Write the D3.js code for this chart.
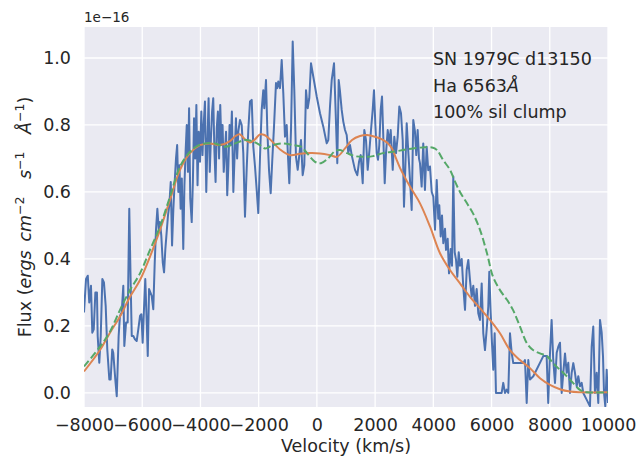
<!DOCTYPE html>
<html>
<head>
<meta charset="utf-8">
<script src="https://cdn.jsdelivr.net/npm/d3@7"></script>
<style>
  html, body { margin: 0; padding: 0; background: #ffffff; }
  svg { display: block; }
  text { font-family: "DejaVu Sans", sans-serif; fill: #262626; }
</style>
</head>
<body>
<svg id="chart" width="641" height="456"></svg>
<script>
// Observed H-alpha profile (flux in units of 1e-16)
const obsVelocity = [
  -8000,-7930,-7870,-7820,-7760,-7715,-7665,-7610,-7555,-7530,-7475,-7425,-7370,-7315,-7255,-7200,
  -7130,-7085,-7030,-6995,-6925,-6875,-6810,-6765,-6705,-6650,-6615,-6555,-6500,-6445,-6395,-6360,
  -6305,-6250,-6190,-6135,-6075,-6030,-5985,-5940,-5895,-5845,-5810,-5765,-5720,-5675,-5620,-5570,
  -5525,-5480,-5435,-5390,-5345,-5295,-5250,-5205,-5160,-5115,-5070,-5020,-4975,-4930,-4885,-4840,
  -4800,-4760,-4720,-4680,-4640,-4590,-4550,-4510,-4470,-4430,-4390,-4350,-4300,-4260,-4220,-4180,
  -4140,-4100,-4060,-4015,-3970,-3930,-3890,-3845,-3800,-3760,-3720,-3680,-3640,-3600,-3560,-3520,
  -3480,-3440,-3400,-3360,-3320,-3280,-3240,-3200,-3160,-3120,-3080,-3040,-3000,-2960,-2920,-2870,
  -2830,-2780,-2740,-2700,-2641,-2583,-2528,-2470,-2411,-2356,-2298,-2239,-2184,-2126,-2068,-2013,
  -1954,-1896,-1841,-1807,-1748,-1703,-1645,-1587,-1532,-1473,-1405,-1360,-1326,-1267,-1209,-1154,
  -1096,-1037,-1003,-948,-889,-831,-776,-718,-659,-604,-546,-488,-433,-374,-316,-261,
  -202,-123,-6,107,220,337,392,450,509,588,646,701,749,794,852,907,
  966,1024,1079,1138,1196,1309,1388,1447,1505,1574,1629,1687,1745,1800,1859,1917,
  1962,2006,2055,2099,2144,2192,2237,2281,2330,2374,2433,2488,2536,2605,2659,2718,
  2776,2831,2889,2948,2992,3037,3085,3140,3198,3256,3311,3369,3414,3462,3507,3541,
  3599,3654,3712,3771,3825,3885,3944,3999,4057,4116,4170,4205,4253,4298,4342,4401,
  4435,4493,4538,4596,4641,4686,4734,4779,4824,4872,4916,4975,5029,5088,5145,5201,
  5259,5318,5373,5431,5489,5544,5603,5661,5716,5774,5833,5888,5922,5970,6015,6059,
  6107,6152,6231,6347,6402,6461,6519,6574,6633,6691,6746,6805,6977,7090,7148,7207,
  7262,7320,7434,7777,7892,7947,8008,8063,8118,8179,8238,8293,8351,8409,8464,8523,
  8581,8636,8694,8752,8808,8866,8924,8979,9038,9096,9151,9266,9381,9439,9494,9553,
  9611,9666,9725,9783,9828,9863,9907,9955,10000
];
const obsFlux = [
  0.24,0.34,0.35,0.27,0.32,0.18,0.19,0.30,0.30,0.17,0.09,0.17,0.34,0.33,0.26,0.13,
  0.04,0.04,0.13,0.12,0.04,-0.01,0.17,0.23,0.24,0.32,0.14,0.21,0.21,0.55,0.32,0.17,
  0.17,0.16,0.155,0.19,0.23,0.235,0.15,0.25,0.34,0.21,0.11,0.31,0.30,0.29,0.25,0.39,
  0.49,0.55,0.49,0.51,0.47,0.39,0.36,0.43,0.48,0.53,0.56,0.63,0.44,0.55,0.63,0.70,
  0.74,0.60,0.68,0.55,0.64,0.43,0.62,0.72,0.80,0.66,0.85,0.58,0.51,0.63,0.82,0.70,
  0.86,0.62,0.78,0.69,0.84,0.71,0.80,0.87,0.60,0.75,0.88,0.66,0.76,0.84,0.88,0.72,
  0.63,0.79,0.84,0.70,0.86,0.74,0.80,0.66,0.72,0.78,0.59,0.68,0.80,0.74,0.84,0.60,
  0.70,0.82,0.70,0.78,0.815,0.80,0.716,0.526,0.67,0.785,0.87,0.875,0.735,0.676,0.606,0.537,
  0.705,0.845,0.904,0.85,0.934,0.785,0.666,0.596,0.696,0.795,0.925,0.91,0.93,0.91,0.994,0.895,
  0.765,0.80,0.725,0.626,0.785,1.049,0.904,0.705,0.666,0.71,0.755,0.65,0.68,0.904,0.85,0.88,
  0.984,0.944,0.885,0.835,0.795,0.745,0.755,0.855,0.934,0.984,0.835,0.686,0.934,0.90,0.845,0.81,
  0.785,0.77,0.716,0.74,0.71,0.666,0.65,0.69,0.71,0.626,0.785,0.755,0.666,0.72,0.785,0.845,
  0.904,0.805,0.716,0.696,0.74,0.845,0.885,0.765,0.626,0.716,0.785,0.745,0.785,0.666,0.765,0.716,
  0.765,0.855,0.835,0.755,0.556,0.67,0.805,0.72,0.636,0.546,0.815,0.78,0.71,0.785,0.70,0.686,
  0.616,0.745,0.606,0.735,0.665,0.676,0.60,0.586,0.487,0.636,0.52,0.56,0.467,0.53,0.447,0.49,
  0.427,0.46,0.357,0.43,0.38,0.646,0.42,0.397,0.347,0.42,0.38,0.40,0.317,0.248,0.367,0.397,
  0.337,0.287,0.32,0.26,0.31,0.238,0.218,0.327,0.178,0.128,0.19,0.258,0.362,0.24,0.148,0.069,
  0.178,0.0,0.0,0.0,0.03,0.0,0.01,0.0,0.178,0.12,0.089,0.089,0.089,0.089,0.098,-0.03,
  0.098,0.04,0.05,0.11,0.11,-0.03,0.12,0.218,0.10,0.03,0.12,0.138,0.15,0.0,0.06,0.118,
  0.06,0.09,0.0,0.06,0.089,0.06,0.02,0.05,0.02,0.03,0.0,-0.02,-0.04,0.138,0.198,0.0,
  0.06,-0.03,0.218,0.18,0.11,0.0,-0.04,0.069,-0.03
];

// Model profile (solid)
const modelVelocity = [
  -8000,-7450,-7107,-6763,-6420,-6076,-5733,-5389,-5046,-4702,-4359,-4015,-3672,-3328,-2985,-2800,
  -2650,-2470,-2298,-2150,-1950,-1800,-1611,-1267,-924,-580,-237,107,450,691,966,1206,
  1481,1721,1996,2237,2443,2580,2720,2855,3198,3542,3885,4229,4572,4916,5259,5603,
  5946,6290,6633,6977,7320,7664,8008,8351,8694,9038,10000
];
const modelFlux = [
  0.064,0.128,0.18,0.228,0.287,0.337,0.407,0.487,0.576,0.666,0.716,0.74,0.745,0.74,0.752,0.767,
  0.772,0.757,0.748,0.755,0.772,0.77,0.757,0.727,0.71,0.714,0.716,0.715,0.71,0.705,0.73,0.755,
  0.767,0.77,0.765,0.757,0.745,0.73,0.70,0.672,0.616,0.566,0.497,0.417,0.367,0.327,0.287,0.253,
  0.218,0.178,0.128,0.098,0.074,0.044,0.024,0.011,0.004,0.002,0.002
];

// Clump model profile (dashed)
const clumpVelocity = [
  -8000,-7450,-7107,-6763,-6420,-6076,-5733,-5389,-5046,-4702,-4359,-4118,-3844,-3500,-3157,-2813,
  -2470,-2229,-1954,-1783,-1508,-1164,-821,-546,-340,-65,141,381,622,794,1034,1309,
  1584,1928,2271,2615,2958,3301,3645,3988,4126,4332,4572,4744,4916,5156,5362,5603,
  5843,6049,6290,6530,6736,6977,7217,7423,7664,7904,8110,8351,8592,8798,9038,9279,10000
];
const clumpFlux = [
  0.079,0.138,0.183,0.248,0.307,0.357,0.427,0.497,0.586,0.676,0.72,0.737,0.745,0.745,0.735,0.745,
  0.755,0.752,0.74,0.73,0.74,0.745,0.74,0.735,0.716,0.69,0.686,0.70,0.722,0.725,0.716,0.707,
  0.705,0.707,0.716,0.72,0.725,0.73,0.733,0.732,0.725,0.696,0.666,0.631,0.60,0.566,0.536,0.487,
  0.417,0.347,0.307,0.278,0.248,0.198,0.148,0.128,0.118,0.11,0.089,0.069,0.049,0.03,0.009,0.002,0.002
];

const xTicks = [-8000,-6000,-4000,-2000,0,2000,4000,6000,8000,10000];
const yTicks = [0.0,0.2,0.4,0.6,0.8,1.0];
const noteLines = ["SN 1979C d13150", "Ha 6563", "100% sil clump"];

const svg = d3.select("#chart");
const plot = { left: 84, right: 608, top: 27, bottom: 407 };

const x = d3.scaleLinear().domain([-8000, 10000]).range([plot.left, plot.right]);
const y = d3.scaleLinear().domain([-0.042, 1.0925]).range([plot.bottom, plot.top]);

// Axes background
svg.append("rect")
  .attr("x", plot.left).attr("y", plot.top)
  .attr("width", plot.right - plot.left).attr("height", plot.bottom - plot.top)
  .attr("fill", "#EAEAF2");

// Grid lines
const grid = svg.append("g").attr("stroke", "#ffffff").attr("stroke-width", 1.3);
grid.selectAll("line.vx").data(xTicks).join("line")
  .attr("x1", d => x(d)).attr("x2", d => x(d))
  .attr("y1", plot.top).attr("y2", plot.bottom);
grid.selectAll("line.hy").data(yTicks).join("line")
  .attr("x1", plot.left).attr("x2", plot.right)
  .attr("y1", d => y(d)).attr("y2", d => y(d));

const fmtX = d => d3.format("d")(d).replace("-", "\u2212");

// X axis tick labels
const xAxis = d3.axisBottom(x).tickValues(xTicks).tickSize(0).tickPadding(12).tickFormat(fmtX);
svg.append("g").attr("transform", `translate(0,${plot.bottom})`).call(xAxis)
  .call(g => g.select(".domain").remove())
  .call(g => g.selectAll("text").attr("font-size", 17.5).attr("fill", "#262626")
    .attr("font-family", "DejaVu Sans, sans-serif"));

// Y axis tick labels
const yAxis = d3.axisLeft(y).tickValues(yTicks).tickSize(0).tickPadding(13).tickFormat(d3.format(".1f"));
svg.append("g").attr("transform", `translate(${plot.left},0)`).call(yAxis)
  .call(g => g.select(".domain").remove())
  .call(g => g.selectAll("text").attr("font-size", 17.5).attr("fill", "#262626")
    .attr("font-family", "DejaVu Sans, sans-serif"));

// Offset text for scientific scaling
svg.append("text").attr("x", plot.left).attr("y", 22)
  .attr("font-size", 13.5).text("1e\u221216");

// Data lines
const clip = svg.append("clipPath").attr("id", "plotclip").append("rect")
  .attr("x", plot.left).attr("y", plot.top)
  .attr("width", plot.right - plot.left).attr("height", plot.bottom - plot.top);
const lines = svg.append("g").attr("clip-path", "url(#plotclip)");

const linear = d3.line().x(d => x(d[0])).y(d => y(d[1]));
const smooth = d3.line().x(d => x(d[0])).y(d => y(d[1])).curve(d3.curveCatmullRom.alpha(0.5));

lines.append("path")
  .datum(d3.zip(obsVelocity, obsFlux))
  .attr("d", linear).attr("fill", "none")
  .attr("stroke", "#4C72B0").attr("stroke-width", 2).attr("stroke-linejoin", "round");

lines.append("path")
  .datum(d3.zip(modelVelocity, modelFlux))
  .attr("d", smooth).attr("fill", "none")
  .attr("stroke", "#DD8452").attr("stroke-width", 2);

lines.append("path")
  .datum(d3.zip(clumpVelocity, clumpFlux))
  .attr("d", smooth).attr("fill", "none")
  .attr("stroke", "#55A868").attr("stroke-width", 2).attr("stroke-dasharray", "7.5,3.2");

// Annotation block
const note = svg.append("g").attr("font-size", 17.5);
note.append("text").attr("x", 433).attr("y", 65).text(noteLines[0]);
const l2 = note.append("text").attr("x", 433).attr("y", 92);
l2.append("tspan").text(noteLines[1]);
l2.append("tspan").attr("font-style", "italic").text("\u00C5");
note.append("text").attr("x", 433).attr("y", 118).text(noteLines[2]);

// Axis labels
svg.append("text")
  .attr("x", (plot.left + plot.right) / 2).attr("y", 452)
  .attr("text-anchor", "middle").attr("font-size", 17.5)
  .text("Velocity (km/s)");

const yl = svg.append("text")
  .attr("transform", `translate(31,${(plot.top + plot.bottom) / 2}) rotate(-90)`)
  .attr("text-anchor", "middle").attr("font-size", 17.5);
yl.append("tspan").text("Flux (");
yl.append("tspan").attr("font-style", "italic").text("ergs\u2002cm");
yl.append("tspan").attr("font-size", 12.5).attr("dy", -7).text("\u22122");
yl.append("tspan").attr("font-style", "italic").attr("dy", 7).text("\u2002\u2002s");
yl.append("tspan").attr("font-size", 12.5).attr("dy", -7).text("\u22121");
yl.append("tspan").attr("font-style", "italic").attr("dy", 7).text("\u2002\u2002\u00C5");
yl.append("tspan").attr("font-size", 12.5).attr("dy", -7).text("\u22121");
yl.append("tspan").attr("dy", 7).text(")");
</script>
</body>
</html>
